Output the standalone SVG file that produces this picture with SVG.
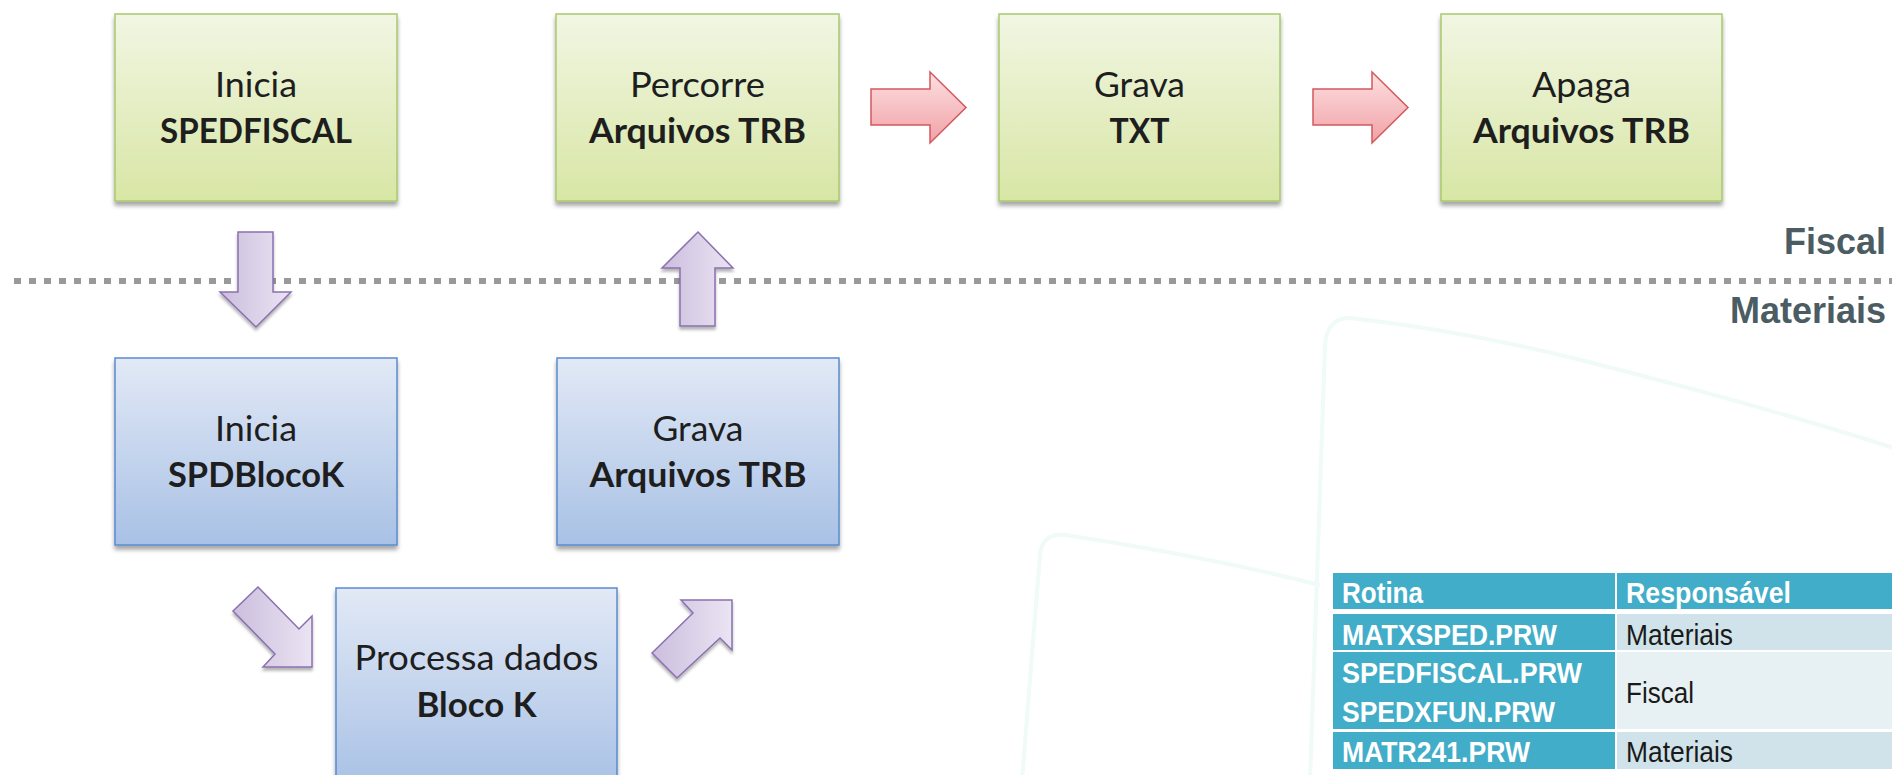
<svg xmlns="http://www.w3.org/2000/svg" width="1892" height="775" viewBox="0 0 1892 775">
<style>
.t1{font-family:Lato,"Open Sans",sans-serif;font-size:35px;fill:#1e1e1e;text-anchor:middle}
.t2{font-family:Lato,"Open Sans",sans-serif;font-size:35px;font-weight:bold;fill:#1e1e1e;text-anchor:middle}
.green{fill:url(#gGreen);stroke:#a9c96c;stroke-width:1.5;filter:url(#sh)}
.blue{fill:url(#gBlue);stroke:#5a8bcf;stroke-width:1.5;filter:url(#sh)}
.red{fill:url(#gRed);stroke:#d4585c;stroke-width:1.5}
.purple{fill:url(#gPurple);stroke:#8a70b0;stroke-width:1.5;filter:url(#sh2)}
.lane{font-family:"Liberation Sans",Arial,sans-serif;font-size:36px;font-weight:bold;fill:#4b5c62;text-anchor:end}
.th{font-family:"Liberation Sans",Arial,sans-serif;font-size:30px;font-weight:bold;fill:#ffffff}
.td{font-family:"Liberation Sans",Arial,sans-serif;font-size:30px;fill:#1a1a1a}
.deco{fill:none;stroke:#f0faf8;stroke-width:4}
</style>
<defs>
<linearGradient id="gGreen" x1="0" y1="0" x2="0" y2="1"><stop offset="0" stop-color="#f1f6e3"/><stop offset="1" stop-color="#d8e6a5"/></linearGradient>
<linearGradient id="gBlue" x1="0" y1="0" x2="0" y2="1"><stop offset="0" stop-color="#e2e9f6"/><stop offset="1" stop-color="#a8c1e5"/></linearGradient>
<linearGradient id="gRed" x1="0" y1="0" x2="0" y2="1"><stop offset="0" stop-color="#fde0e2"/><stop offset="1" stop-color="#f0a1a6"/></linearGradient>
<linearGradient id="gPurple" x1="0" y1="0" x2="1" y2="0"><stop offset="0" stop-color="#cbbedd"/><stop offset="1" stop-color="#ebe4f3"/></linearGradient>
<filter id="sh" x="-5%" y="-5%" width="110%" height="115%"><feDropShadow dx="0" dy="4" stdDeviation="2" flood-color="#000" flood-opacity="0.35"/></filter>
<filter id="sh2" x="-20%" y="-20%" width="140%" height="140%"><feDropShadow dx="0" dy="3" stdDeviation="1.5" flood-color="#000" flood-opacity="0.3"/></filter>
</defs>
<rect width="1892" height="775" fill="#ffffff"/>
<g id="background">
<path class="deco" d="M1310,780 L1325,345 Q1327,318 1350,318 Q1460,330 1581,360 Q1760,405 1900,450"/>
<path class="deco" d="M1022,780 L1040,555 Q1042,533 1065,535 Q1200,555 1320,585"/>
</g>
<line id="separator" x1="14" y1="281" x2="1892" y2="281" stroke="#999999" stroke-width="6" stroke-dasharray="7 8"/>
<g id="lanes">
<text class="lane" x="1886" y="254">Fiscal</text>
<text class="lane" x="1886" y="323">Materiais</text>
</g>
<g id="node-inicia-spedfiscal">
<rect class="green" x="115" y="14" width="282" height="187"/>
<text class="t1" x="256" y="97" textLength="82" lengthAdjust="spacingAndGlyphs">Inicia</text>
<text class="t2" x="256" y="143" textLength="192" lengthAdjust="spacingAndGlyphs">SPEDFISCAL</text>
</g>
<g id="node-percorre">
<rect class="green" x="556" y="14" width="283" height="187"/>
<text class="t1" x="697.5" y="97" textLength="135" lengthAdjust="spacingAndGlyphs">Percorre</text>
<text class="t2" x="697.5" y="143" textLength="217" lengthAdjust="spacingAndGlyphs">Arquivos TRB</text>
</g>
<g id="node-grava-txt">
<rect class="green" x="999" y="14" width="281" height="187"/>
<text class="t1" x="1139.5" y="97" textLength="91" lengthAdjust="spacingAndGlyphs">Grava</text>
<text class="t2" x="1139.5" y="143" textLength="60" lengthAdjust="spacingAndGlyphs">TXT</text>
</g>
<g id="node-apaga">
<rect class="green" x="1441" y="14" width="281" height="187"/>
<text class="t1" x="1581.5" y="97" textLength="99" lengthAdjust="spacingAndGlyphs">Apaga</text>
<text class="t2" x="1581.5" y="143" textLength="217" lengthAdjust="spacingAndGlyphs">Arquivos TRB</text>
</g>
<g id="node-inicia-spdblocok">
<rect class="blue" x="115" y="358" width="282" height="187"/>
<text class="t1" x="256" y="441" textLength="82" lengthAdjust="spacingAndGlyphs">Inicia</text>
<text class="t2" x="256" y="487" textLength="176" lengthAdjust="spacingAndGlyphs">SPDBlocoK</text>
</g>
<g id="node-grava-trb">
<rect class="blue" x="557" y="358" width="282" height="187"/>
<text class="t1" x="698" y="441" textLength="91" lengthAdjust="spacingAndGlyphs">Grava</text>
<text class="t2" x="698" y="487" textLength="217" lengthAdjust="spacingAndGlyphs">Arquivos TRB</text>
</g>
<g id="node-processa">
<rect class="blue" x="336" y="588" width="281" height="200"/>
<text class="t1" x="476.5" y="670" textLength="244" lengthAdjust="spacingAndGlyphs">Processa dados</text>
<text class="t2" x="476.5" y="717" textLength="120" lengthAdjust="spacingAndGlyphs">Bloco K</text>
</g>
<g id="connectors">
<path class="red" d="M871,89 H930 V72 L966,107.5 L930,143 V125 H871 Z"/>
<path class="red" d="M1313,89 H1372 V72 L1408,107.5 L1372,143 V125 H1313 Z"/>
<path class="purple" d="M238,232 H273 V292 H291 L256,327 L220,292 H238 Z"/>
<path class="purple" d="M698,232 L733,268 H715 V326 H680 V268 H662 Z"/>
<path class="purple" d="M258,587 L299,629 L312,616 L312,667 L263,667 L275,654 L233,611 Z"/>
<path class="purple" d="M652,653 L693,613 L681,600 L732,600 L732,650 L720,638 L677,678 Z"/>
</g>
<g id="table">
<rect x="1333" y="573" width="282" height="36" fill="#42adc8"/>
<rect x="1617" y="573" width="280" height="36" fill="#42adc8"/>
<rect x="1333" y="614" width="282" height="36" fill="#42adc8"/>
<rect x="1617" y="614" width="280" height="36" fill="#d0e3ea"/>
<rect x="1333" y="652" width="282" height="77" fill="#42adc8"/>
<rect x="1617" y="652" width="280" height="77" fill="#e7f0f3"/>
<rect x="1333" y="732" width="282" height="37" fill="#42adc8"/>
<rect x="1617" y="732" width="280" height="37" fill="#d0e3ea"/>
<text class="th" x="1342" y="603" textLength="81" lengthAdjust="spacingAndGlyphs">Rotina</text>
<text class="th" x="1626" y="603" textLength="165" lengthAdjust="spacingAndGlyphs">Responsável</text>
<text class="th" x="1342" y="645" textLength="215" lengthAdjust="spacingAndGlyphs">MATXSPED.PRW</text>
<text class="td" x="1626" y="645" textLength="107" lengthAdjust="spacingAndGlyphs">Materiais</text>
<text class="th" x="1342" y="683" textLength="240" lengthAdjust="spacingAndGlyphs">SPEDFISCAL.PRW</text>
<text class="th" x="1342" y="722" textLength="213" lengthAdjust="spacingAndGlyphs">SPEDXFUN.PRW</text>
<text class="td" x="1626" y="703" textLength="68" lengthAdjust="spacingAndGlyphs">Fiscal</text>
<text class="th" x="1342" y="762" textLength="188" lengthAdjust="spacingAndGlyphs">MATR241.PRW</text>
<text class="td" x="1626" y="762" textLength="107" lengthAdjust="spacingAndGlyphs">Materiais</text>
</g>
</svg>
